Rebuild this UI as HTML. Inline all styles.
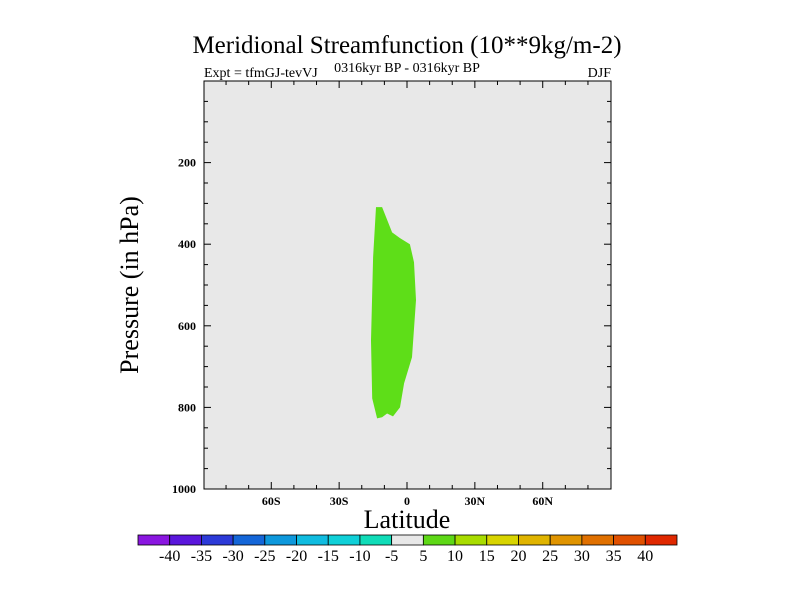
<!DOCTYPE html>
<html><head><meta charset="utf-8">
<style>
body{margin:0;background:#fff;}
svg{display:block;font-family:"Liberation Serif",serif;}
</style></head>
<body>
<svg id="chart" width="800" height="600" viewBox="0 0 800 600">
<text x="407" y="53" font-size="25" text-anchor="middle">Meridional Streamfunction (10**9kg/m-2)</text>
<text x="204" y="77" font-size="14">Expt = tfmGJ-tevVJ</text>
<text x="407" y="72" font-size="14" text-anchor="middle">0316kyr BP - 0316kyr BP</text>
<text x="611" y="77" font-size="14" text-anchor="end">DJF</text>
<rect x="204" y="81" width="407" height="408" fill="#e8e8e8"/>
<g id="marks"></g>
<rect x="204" y="81" width="407" height="408" fill="none" stroke="#000" stroke-width="1"/>
<g id="axes"></g>
<text x="407" y="528" font-size="26" text-anchor="middle">Latitude</text>
<text transform="translate(138,285) rotate(-90)" font-size="26" text-anchor="middle">Pressure (in hPa)</text>
<g id="colorbar"></g>
</svg>
<script>
const polyLat=[-13.7,-11,-6.6,-3.1,1.3,3.1,4,2.2,-1.3,-3.1,-6.2,-8.8,-11,-13.2,-15.4,-15.9,-15];
const polyP=[309,309,371,385,400,444,537,677,741,800,822,815,824,827,778,636,432];
const xTicks=[-60,-30,0,30,60];
const xTickLabels=["60S","30S","0","30N","60N"];
const yTicks=[200,400,600,800,1000];
const cbLevels=[-40,-35,-30,-25,-20,-15,-10,-5,5,10,15,20,25,30,35,40];
const cbColors=["#8a16e0","#5a16dc","#2c3ad8","#1466d8","#0e98dc","#10bce0","#10d0d8","#10dcb8","#e8e8e8","#5ed816","#a8dc00","#d8d400","#e0b400","#e09400","#e07000","#e05000","#e02800"];
const NS="http://www.w3.org/2000/svg";
function xs(lat){return 407+lat*2.262;}
function ys(p){return 81+p*0.408;}
function mk(tag,attrs,parent){const e=document.createElementNS(NS,tag);for(const k in attrs)e.setAttribute(k,attrs[k]);parent.appendChild(e);return e;}
const marks=document.getElementById('marks');
const pts=polyLat.map((l,i)=>xs(l).toFixed(1)+','+ys(polyP[i]).toFixed(1)).join(' ');
const poly=mk('polygon',{points:pts,fill:'#5ede18'},marks);


const axes=document.getElementById('axes');
for(let lat=-80;lat<=80;lat+=10){
  const major=lat%30===0;const len=major?7:4;
  const t1=mk('line',{x1:xs(lat),x2:xs(lat),y1:489,y2:489-len,stroke:'#000'},axes);
  
  
  const t2=mk('line',{x1:xs(lat),x2:xs(lat),y1:81,y2:81+len,stroke:'#000'},axes);
  
  
}
xTicks.forEach((v,i)=>{const t=mk('text',{x:xs(v),y:505,'font-size':12,'font-weight':'bold','text-anchor':'middle'},axes);t.textContent=xTickLabels[i];
  
  });
for(let p=50;p<1000;p+=50){
  const major=p%200===0;const len=major?7:4;
  const a=mk('line',{x1:204,x2:204+len,y1:ys(p),y2:ys(p),stroke:'#000'},axes);
  
  
  const b=mk('line',{x1:611,x2:611-len,y1:ys(p),y2:ys(p),stroke:'#000'},axes);
  
  
}
yTicks.forEach(v=>{const t=mk('text',{x:196,y:ys(v)+4,'font-size':12,'font-weight':'bold','text-anchor':'end'},axes);t.textContent=v;
  
  });
const cb=document.getElementById('colorbar');
const bw=(677-138)/cbColors.length;
cbColors.forEach((c,i)=>{const r=mk('rect',{x:138+i*bw,y:535,width:bw,height:10,fill:c,stroke:'#000','stroke-width':0.8},cb);
  
  });
cbLevels.forEach((v,i)=>{const t=mk('text',{x:138+(i+1)*bw,y:561,'font-size':16,'text-anchor':'middle'},cb);t.textContent=v;
  
  });
</script>
</body></html>
